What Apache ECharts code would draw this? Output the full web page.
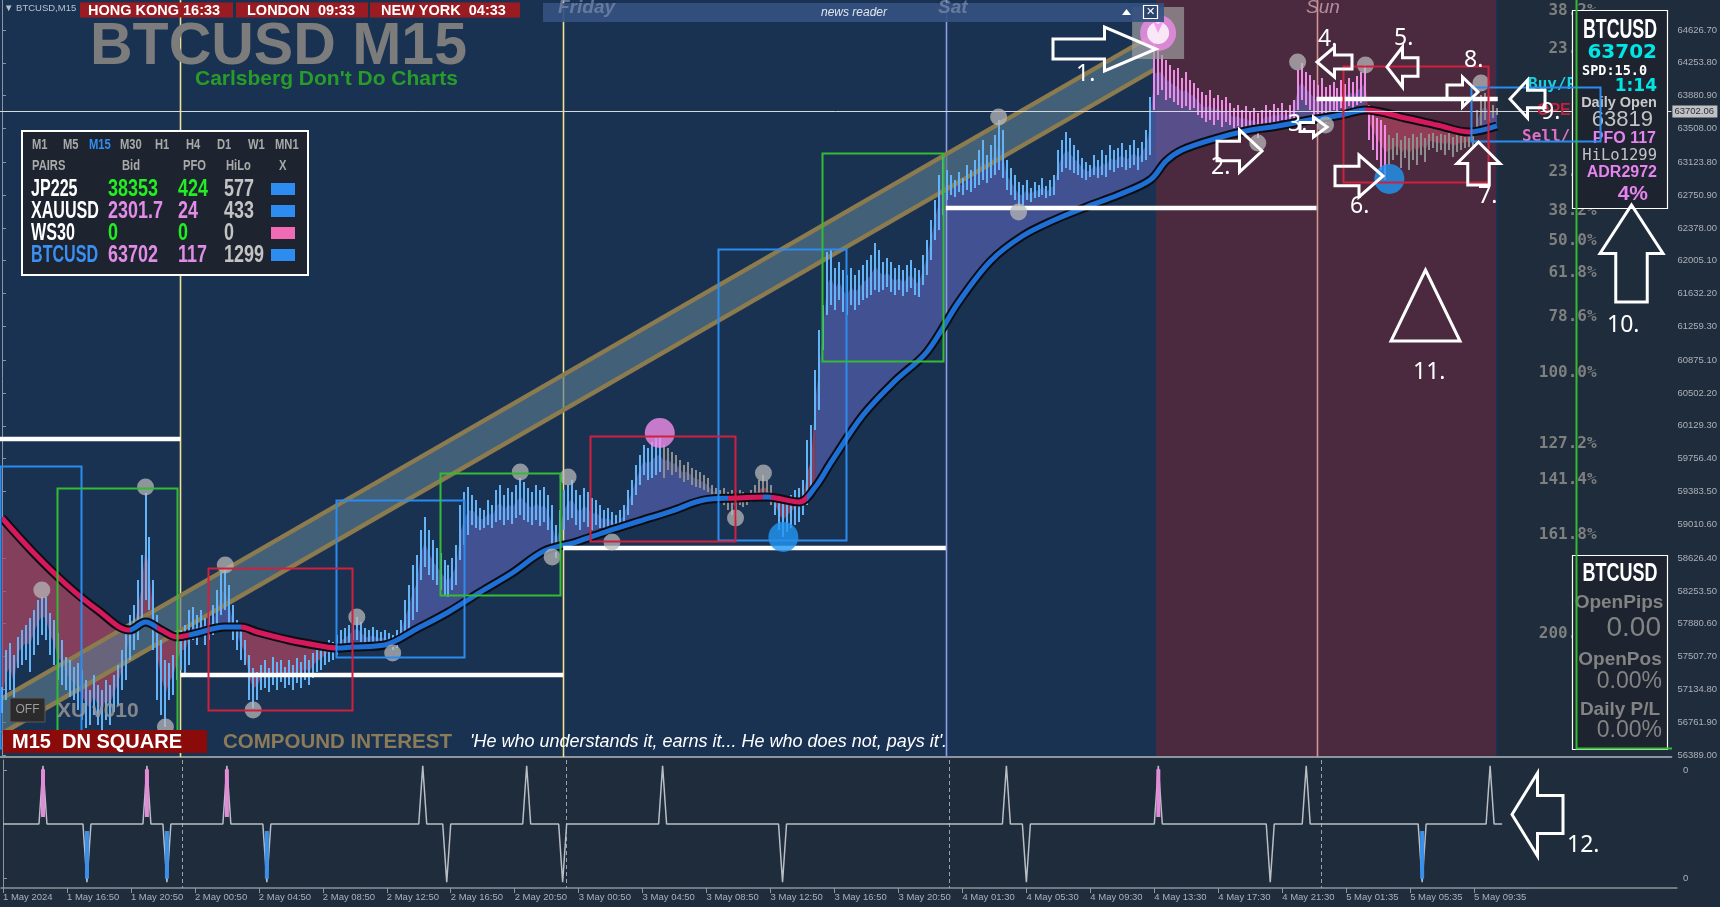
<!DOCTYPE html>
<html><head><meta charset="utf-8">
<script src="https://cdn.jsdelivr.net/npm/echarts@6.0.0/dist/echarts.min.js"></script>
<style>html,body{margin:0;padding:0;background:#1f2c3b;overflow:hidden}#c{width:1720px;height:907px}</style>
</head><body><div id="c"></div><script>
// ---------------- data ----------------
const tickIdx = [0,16,32,48,64,80,96,112,128,144,160,176,192,208,224,240,256,272,288,304,320,336,352,368];
const tickLabels = ['1 May 2024','1 May 16:50','1 May 20:50','2 May 00:50','2 May 04:50','2 May 08:50','2 May 12:50','2 May 16:50','2 May 20:50','3 May 00:50','3 May 04:50','3 May 08:50','3 May 12:50','3 May 16:50','3 May 20:50','4 May 01:30','4 May 05:30','4 May 09:30','4 May 13:30','4 May 17:30','4 May 21:30','5 May 01:35','5 May 05:35','5 May 09:35'];
const priceTicks = [56389.00,56761.90,57134.80,57507.70,57880.60,58253.50,58626.40,59010.60,59383.50,59756.40,60129.30,60502.20,60875.10,61259.30,61632.20,62005.10,62378.00,62750.90,63123.80,63508.00,63880.90,64253.80,64626.70];
const highs = [
57162,57583,57662,57526,57730,57810,57866,57946,58037,58151,58185,58185,58003,57923,57776,57696,
57503,57469,57389,57435,57355,57242,57128,57299,57185,57128,57242,57185,57299,57412,57583,57810,
57980,58094,58378,58662,59366,58866,58378,57980,57696,57469,57435,57526,57696,57810,57866,58037,
58071,57980,58037,57946,58014,58094,58264,58469,58492,58321,58094,57923,57810,57696,57526,57378,
57332,57412,57469,57378,57503,57446,57469,57389,57469,57412,57492,57446,57526,57469,57549,57583,
57606,57640,57696,57674,57753,57810,57833,57866,57901,57957,57901,57833,57810,57844,57810,57787,
57810,57776,57753,57810,57923,58151,58321,58548,58662,58946,59094,58946,58832,58742,58685,58605,
58548,58628,58776,59230,59378,59435,59344,59287,59196,59173,59287,59230,59400,59457,59344,59423,
59378,59457,59537,59491,59423,59378,59457,59400,59435,59344,59230,59003,59173,59400,59457,59514,
59400,59344,59423,59378,59310,59287,59230,59173,59196,59151,59116,59173,59230,59400,59514,59685,
59798,59912,59878,59946,59991,60003,59912,59878,59832,59798,59741,59685,59719,59651,59628,59605,
59571,59537,59457,59423,59400,59423,59378,59400,59344,59400,59378,59344,59400,59457,59514,59571,
59514,59457,59344,59287,59264,59310,59344,59400,59423,59514,59969,60139,60764,61218,61503,62105,
62128,61923,61991,61900,61843,61923,61843,61900,61957,62014,62071,62207,62128,61991,62037,61991,
61923,61957,61900,61957,62014,61923,61900,62071,62241,62468,62696,62980,63184,63036,62980,62923,
63014,62946,63093,63036,63150,63264,63377,63207,63320,63434,63604,63491,63150,63059,62980,62900,
62866,62923,62832,62900,62866,62946,62855,62923,62980,63264,63377,63468,63400,63320,63264,63173,
63127,63093,63207,63150,63264,63207,63320,63264,63286,63343,63264,63320,63377,63286,63355,63491,
63866,64548,64400,64343,64286,64230,64173,64195,64082,64150,64059,64025,63968,63923,63889,63945,
63855,63889,63832,63866,63798,63741,63775,63718,63764,63695,63741,63684,63718,63775,63718,63786,
63741,63798,63718,63775,63832,64173,64252,64150,64116,64059,64002,64082,63980,64002,64036,63968,
64059,64014,64082,64036,64105,64150,64230,63775,63695,63627,63604,63548,63434,63400,63457,63377,
63423,63400,63445,63411,63457,63400,63445,63457,63423,63445,63434,63457,63411,63434,63423,63411,
63423,63434,63718,63889,63911,63832,63775,63741];
const lows = [
56867,57015,57128,56867,57378,57412,57469,57332,57526,57640,57753,57696,57526,57412,57242,57185,
57128,57049,57015,56901,56787,56696,56730,56844,56730,56674,56787,56730,56878,56958,57128,57242,
57469,57583,57696,57923,58151,58037,57583,57015,56844,56708,57015,57071,57242,57355,57299,57412,
57696,57640,57753,57640,57696,57753,57866,57980,58037,57866,57696,57583,57469,57412,57015,56924,
57015,57128,57151,57106,57185,57128,57219,57151,57185,57128,57208,57151,57242,57185,57265,57332,
57355,57412,57446,57469,57526,57560,57606,57640,57696,57696,57674,57640,57640,57662,57628,57640,
57640,57606,57583,57606,57662,57719,57810,57923,58014,58378,58526,58435,58378,58321,58264,58208,
58185,58264,58321,58605,58776,58889,59003,58969,58946,58969,59003,58969,59037,59060,59003,59060,
59014,59082,59116,59060,59037,59003,59060,58991,59037,58946,58776,58628,58776,58946,59060,59082,
59003,58946,59037,58980,58946,59003,58969,58946,58980,58923,58912,58946,59003,59116,59230,59344,
59457,59571,59514,59537,59571,59605,59537,59628,59571,59605,59537,59491,59514,59457,59435,59423,
59400,59378,59344,59310,59287,59230,59173,59116,59060,59230,59207,59230,59264,59287,59287,59310,
59287,59230,59116,58946,58866,58923,58969,59003,59037,59116,59230,59344,60082,60310,60991,61389,
61503,61446,61559,61423,61389,61503,61446,61503,61559,61582,61616,61673,61650,61673,61707,61650,
61616,61673,61605,61650,61696,61616,61594,61730,61843,62014,62241,62355,62525,62696,62752,62730,
62786,62752,62809,62786,62832,62866,62923,62889,62946,62980,63036,62946,62809,62752,62696,62616,
62639,62696,62673,62718,62730,62752,62718,62741,62752,62923,63014,63059,63036,63002,62980,62946,
62923,62957,62980,62946,62980,62957,63036,63014,63059,63070,63036,63059,63093,63036,63127,63150,
63207,63718,63889,63945,63832,63855,63809,63775,63741,63764,63718,63741,63661,63627,63582,63604,
63548,63604,63525,63582,63548,63514,63536,63491,63514,63468,63491,63400,63457,63548,63525,63582,
63536,63604,63548,63582,63627,63718,63832,63775,63718,63661,63627,63604,63570,63695,63718,63695,
63741,63718,63764,63741,63775,63798,63832,63377,63264,63150,63036,62923,63093,63150,63207,63059,
63173,63036,63150,63093,63207,63127,63264,63286,63241,63264,63207,63264,63184,63241,63264,63286,
63298,63309,63434,63548,63604,63582,63627,63661];
const lastPrice = 63702.06;
// bar colour runs: [firstIndex, lastIndex, key]
const barColorRuns = [[0,165,'blue'],[166,193,'gray'],[194,288,'blue'],[289,347,'pink'],[348,375,'gray']];
// moving average: [barIndex, price]
const maPoints = [[0,59082],[8,58684],[16,58332],[24,58037],[32,57809],[36,57900],[40,57809],[44,57730],[48,57764],[56,57843],[60,57843],[64,57787],[72,57696],[80,57628],[84,57605],[88,57616],[96,57639],[104,57821],[112,58014],[120,58241],[128,58457],[136,58707],[144,58809],[152,58934],[160,59048],[168,59161],[176,59286],[184,59309],[192,59321],[200,59264],[204,59434],[208,59718],[216,60252],[224,60639],[232,60968],[240,61536],[248,62002],[256,62286],[264,62468],[272,62616],[280,62752],[288,62922],[292,63138],[296,63263],[304,63388],[312,63479],[320,63536],[328,63604],[336,63661],[342,63718],[352,63627],[360,63547],[368,63468],[375,63536]];
// MA trend runs: [fromIndex, toIndex, key]
const maTrendRuns = [[0,32,'down'],[32,39,'up'],[39,47,'down'],[47,60,'up'],[60,84,'down'],[84,182,'up'],[182,191,'down'],[191,193,'up'],[193,202,'down'],[202,342,'up'],[342,369,'down'],[369,376,'up']];
const fillRuns = [[0,48,'down'],[48,60,'up'],[60,84,'down'],[84,184,'up'],[184,204,'down'],[204,342,'up'],[342,368,'down'],[368,375,'up']];
// regression channel: centre line ends and half width (price)
const channelLine = [[0,56833],[289,64377]];
const channelHalf = 200;
// session level lines [fromIndex, toIndex, price]
const levelLines = [[-0.5,44.75,59980],[44.75,140.75,57299],[140.75,236.75,58742],[236.75,329.75,62605],[329.75,375.2,63843]];
// day separators [index, key]
const dayBreaks = [[44.75,'yellow'],[140.75,'yellow'],[236.75,'sat'],[329.75,'sun']];
// backgrounds [fromIndex, toIndex, key]
const bgRegions = [[-0.5,375.25,'navy'],[289.5,374.75,'weekend']];
// boxes [x1, x2, price1, price2, key]
const boxes = [[-0.5,19.75,59673,56469,'blue'],[83.75,115.75,59287,57503,'blue'],[179.65,211.75,62139,58832,'blue'],[368.5,400.75,63979,63366,'blue'],
 [13.75,43.75,59423,56572,'green'],[109.75,139.75,59594,58208,'green'],[205.75,236,63230,60866,'green'],[394.75,430,65500,56469,'green'],
 [51.65,87.75,58514,56901,'red'],[147.5,183.75,60014,58821,'red'],[336.5,372.75,64218,62900,'red']];
// swing markers [barIndex, price]
const swingDots = [[10,58264],[36,59435],[41,56708],[56,58548],[63,56901],[89,57957],[98,57549],[130,59605],[138,58639],[142,59548],[153,58810],[184,59082],[191,59594],[250,63639],[255,62559],[315,63343],[325,64264],[332,63548],[342,64230],[371,64025]];
const pinkDots = [[165,60048]];
const blueDots = [[196,58866],[348,62934]];
const alertMark = [[290,64593]];
// fibonacci labels [text, price]
const fibLabels = [['38.2%',64843],['23.6%',64411],['23.6%',63014],['38.2%',62571],['50.0%',62230],['61.8%',61866],['78.6%',61366],['100.0%',60730],['127.2%',59923],['141.4%',59514],['161.8%',58889],['200.0%',57765]];
// indicator spikes [barIndex, direction, key]
const indSpikes = [[10,1,'pink'],[21,-1,'blue'],[36,1,'pink'],[41,-1,'blue'],[56,1,'pink'],[66,-1,'blue'],[105,1,'gray'],[111,-1,'gray'],[131,1,'gray'],[140,-1,'gray'],[165,1,'gray'],[195,-1,'gray'],[251,1,'gray'],[256,-1,'gray'],[289,1,'pink'],[317,-1,'gray'],[326,1,'gray'],[355,-1,'blue'],[372,1,'gray']];
// table panel
const tableTF = ['M1','M5','M15','M30','H1','H4','D1','W1','MN1'];
const tablePairs = ['JP225','XAUUSD','WS30','BTCUSD'];
const tableBid = ['38353','2301.7','0','63702'];
const tablePFO = ['424','24','0','117'];
const tableHiLo = ['577','433','0','1299'];
const tableX = ['blue','blue','pink','blue'];
const sessions = [['HONG KONG 16:33'],['LONDON  09:33'],['NEW YORK  04:33']];

// ---------------- styling ----------------
const C = {navy:'#1a3252', weekend:'#4b2a40', page:'#1f2c3b', blue:'#63b3f6', gray:'#8e8e8e', pink:'#f08ce6',
  maUp:'#1e6fd6', maDown:'#d6195c', fillUp:'rgba(100,108,196,0.55)', fillDown:'rgba(176,68,96,0.7)',
  yellow:'#eee28c', sat:'#8e9ce6', sun:'#d49494', boxBlue:'#2a8cf0', boxGreen:'#33bb33', boxRed:'#d0203e', axis:'#8c949c', lbl:'#aab1b9'};
const PMIN = 56366.5, PMAX = 64967.6, XMIN = -0.5, XMAX = 418.75;
const colorOf = i => { for (const r of barColorRuns) if (i >= r[0] && i <= r[1]) return C[r[2]]; return C.blue; };
const fontL = (s, w) => (w||'') + ' ' + s + 'px "Liberation Sans","Arial",sans-serif';
const fontM = (s) => 'bold ' + s + 'px "DejaVu Sans Mono",monospace';

const series = [];
series.push({type:'custom', z:0, silent:true, clip:true, data: bgRegions.map((r,i)=>[i]),
  renderItem(p, api){ const r = bgRegions[p.dataIndex]; const a = api.coord([r[0], PMAX]), b = api.coord([r[1], PMIN]);
    return {type:'rect', shape:{x:a[0], y:a[1], width:b[0]-a[0], height:b[1]-a[1]}, style:{fill:C[r[2]]}}; }});
series.push({type:'custom', z:2, silent:true, clip:true, data: fillRuns.map((r,i)=>[i]),
  renderItem(p, api){ const r = fillRuns[p.dataIndex]; const pts=[];
    for (let i=r[0]; i<=r[1]; i++) pts.push(api.coord([i, (highs[i]+lows[i])/2]));
    maPoints.filter(q=>q[0]>=r[0] && q[0]<=r[1]).reverse().forEach(q=>pts.push(api.coord(q)));
    return {type:'polygon', shape:{points:pts}, style:{fill: r[2]==='up'?C.fillUp:C.fillDown}}; }});
series.push({type:'custom', z:3, silent:true, clip:true, data: dayBreaks.map((r,i)=>[i]),
  renderItem(p, api){ const r = dayBreaks[p.dataIndex]; const a = api.coord([r[0], PMAX]), b = api.coord([r[0], PMIN]);
    return {type:'line', shape:{x1:Math.round(a[0])+0.5, y1:a[1], x2:Math.round(a[0])+0.5, y2:b[1]}, style:{stroke:C[r[1]], lineWidth:1.6}}; }});
series.push({type:'custom', z:3, silent:true, clip:true, data:[[0]],
  renderItem(p, api){ const s = channelLine[0], e = channelLine[1];
    const su = api.coord([s[0], s[1]+channelHalf]), eu = api.coord([e[0], e[1]+channelHalf]);
    const sl = api.coord([s[0], s[1]-channelHalf]), el = api.coord([e[0], e[1]-channelHalf]);
    return {type:'group', children:[
      {type:'polygon', shape:{points:[su,eu,el,sl]}, style:{fill:'rgba(88,120,140,0.66)'}},
      {type:'line', shape:{x1:su[0],y1:su[1],x2:eu[0],y2:eu[1]}, style:{stroke:'#8c7b4e', lineWidth:4.5}},
      {type:'line', shape:{x1:sl[0],y1:sl[1],x2:el[0],y2:el[1]}, style:{stroke:'#8c7b4e', lineWidth:4.5}}]}; }});
series.push({type:'custom', z:4, silent:true, clip:true, data: highs.map((h,i)=>[i, lows[i], h]), encode:{x:0, y:[1,2]},
  renderItem(p, api){ const i = api.value(0); const t = api.coord([i, api.value(2)]), b = api.coord([i, api.value(1)]);
    return {type:'rect', shape:{x:Math.round(t[0])-1, y:t[1], width:2, height:Math.max(1.5, b[1]-t[1])}, style:{fill:colorOf(i)}}; }});
series.push({type:'line', z:5, silent:true, data: maPoints, smooth:0.35, showSymbol:false, lineStyle:{color:'#0b0d12', width:9}});
const MA_INDEX = series.length;
series.push({type:'line', z:6, silent:true, data: maPoints, smooth:0.35, showSymbol:false, lineStyle:{width:5}});
series.push({type:'custom', z:7, silent:true, clip:true, data: levelLines.map((r,i)=>[i]),
  renderItem(p, api){ const r = levelLines[p.dataIndex]; const a = api.coord([r[0], r[2]]), b = api.coord([r[1], r[2]]);
    return {type:'line', shape:{x1:a[0], y1:a[1], x2:b[0], y2:b[1]}, style:{stroke:'#ffffff', lineWidth:4.5}}; }});
series.push({type:'scatter', z:8, silent:true, data: swingDots, symbolSize:17, itemStyle:{color:'rgba(185,185,185,0.92)'}});
series.push({type:'scatter', z:8, silent:true, data: pinkDots, symbolSize:30, itemStyle:{color:'#f08ce8'}});
series.push({type:'scatter', z:8, silent:true, data: blueDots, symbolSize:30, itemStyle:{color:'#2196f3'}});
series.push({type:'scatter', z:8, silent:true, data: alertMark, symbol:'rect', symbolSize:52, itemStyle:{color:'rgba(160,160,160,0.85)'}});
series.push({type:'scatter', z:8, silent:true, data: alertMark, symbolSize:36, itemStyle:{color:'#f08ce8'}});
series.push({type:'scatter', z:8, silent:true, data: alertMark, symbolSize:22, itemStyle:{color:'#ffffff'}});
series.push({type:'scatter', z:8, silent:true, data: alertMark, symbol:'arrow', symbolRotate:180, symbolSize:[8,12], itemStyle:{color:'#f08ce8'}});
series.push({type:'custom', z:8, silent:true, clip:false, data:[[0]],
  renderItem(p, api){ const a = api.coord([XMIN, lastPrice]), b = api.coord([XMAX, lastPrice]); const y = Math.round(a[1])+0.5;
    return {type:'group', children:[
      {type:'line', shape:{x1:a[0], y1:y, x2:b[0], y2:y}, style:{stroke:'#d6dade', lineWidth:1}},
      {type:'rect', shape:{x:b[0]+1, y:y-6, width:45, height:12}, style:{fill:'#c2c2c2'}},
      {type:'text', x:b[0]+3, y:y, style:{text:lastPrice.toFixed(2), fill:'#1f2c3b', font:fontL(9.5), verticalAlign:'middle'}}]}; }});
series.push({type:'custom', z:9, silent:true, clip:false, data: fibLabels.map((r,i)=>[i]),
  renderItem(p, api){ const r = fibLabels[p.dataIndex]; const a = api.coord([400, r[1]]);
    return {type:'text', x:a[0], y:a[1], style:{text:r[0], fill:'#7f7f7f', font:fontM(16), align:'right', verticalAlign:'middle'}}; }});
series.push({type:'custom', z:11, silent:true, clip:true, data: boxes.map((r,i)=>[i]),
  renderItem(p, api){ const r = boxes[p.dataIndex]; const a = api.coord([r[0], Math.max(r[2],r[3])]), b = api.coord([r[1], Math.min(r[2],r[3])]);
    const col = r[4]==='blue'?C.boxBlue:(r[4]==='green'?C.boxGreen:C.boxRed);
    return {type:'rect', shape:{x:Math.round(a[0])+0.5, y:Math.round(a[1])+0.5, width:Math.round(b[0]-a[0]), height:Math.round(b[1]-a[1])}, style:{fill:null, stroke:col, lineWidth:2}}; }});
// ---- indicator pane ----
series.push({type:'custom', xAxisIndex:1, yAxisIndex:1, z:3, silent:true, clip:true, data: dayBreaks.map((r,i)=>[i]),
  renderItem(p, api){ const r = dayBreaks[p.dataIndex]; const a = api.coord([r[0], 1.1]), b = api.coord([r[0], -1.1]);
    return {type:'line', shape:{x1:Math.round(a[0])+0.5, y1:a[1], x2:Math.round(a[0])+0.5, y2:b[1]}, style:{stroke:'#9aa4ae', lineWidth:1, lineDash:[4,3]}}; }});
const indData = highs.map((h,i)=>{ const s = indSpikes.find(q=>q[0]===i); return [i, s ? s[1] : 0]; });
series.push({type:'line', xAxisIndex:1, yAxisIndex:1, z:5, silent:true, data: indData, showSymbol:false, lineStyle:{color:'#b9bec4', width:1.5}});
series.push({type:'custom', xAxisIndex:1, yAxisIndex:1, z:6, silent:true, clip:true, data: indSpikes.filter(s=>s[2]!=='gray').map(s=>[s[0], s[1]]),
  renderItem(p, api){ const i = api.value(0), d = api.value(1); const a = api.coord([i, d*0.94]), b = api.coord([i, d*0.12]);
    const col = d > 0 ? '#e58ad8' : '#3a8fe8';
    return {type:'rect', shape:{x:a[0]-2, y:Math.min(a[1],b[1]), width:4, height:Math.abs(b[1]-a[1])}, style:{fill:col}}; }});

// ---------------- overlay graphics ----------------
const g = [];
const txt = (x, y, text, font, fill, align, vAlign, z, extra, tf) => Object.assign({type:'text', x, y, z: z||30, silent:true,
  style: Object.assign({text, font, fill, align: align||'left', verticalAlign: vAlign||'middle'}, extra||{})}, tf||{});
// condensed look: bold Liberation Sans squeezed horizontally
const cond = (x, y, text, size, fill, align, z, sx, sy) => txt(x, y, text, fontL(size,'bold'), fill, align||'left', 'middle', z, null, {scaleX: sx||0.78, scaleY: sy||1});
const rect = (x, y, w, h, style, z) => ({type:'rect', z: z||30, silent:true, shape:{x, y, width:w, height:h}, style});
function arrow(dir, x0, y0, x1, y1){
  const w = x1-x0, h = y1-y0; let pts;
  if (dir==='right'){ const xm=x0+0.5*w, yc=(y0+y1)/2, s=h*0.23; pts=[[x0,yc-s],[xm,yc-s],[xm,y0],[x1,yc],[xm,y1],[xm,yc+s],[x0,yc+s]]; }
  else if (dir==='left'){ const xm=x1-0.5*w, yc=(y0+y1)/2, s=h*0.23; pts=[[x1,yc-s],[xm,yc-s],[xm,y0],[x0,yc],[xm,y1],[xm,yc+s],[x1,yc+s]]; }
  else { const ym=y0+0.5*h, xc=(x0+x1)/2, s=w*0.25; pts=[[xc-s,y1],[xc-s,ym],[x0,ym],[xc,y0],[x1,ym],[xc+s,ym],[xc+s,y1]]; }
  return {type:'polygon', z:32, silent:true, shape:{points:pts}, style:{fill:null, stroke:'#ffffff', lineWidth:3, lineJoin:'miter'}};
}
// header
g.push(txt(4, 8, '▼ BTCUSD,M15', '9.5px "Liberation Sans","DejaVu Sans",sans-serif', '#b9c2cb'));
const sessBoxes = [[80,153,88],[236,132,247],[370,150,381]];
sessions.forEach((s,i)=>{ const b = sessBoxes[i]; g.push(rect(b[0], 2.5, b[1], 15, {fill:'#9b1b22'})); g.push(txt(b[2], 10.5, s[0], fontL(14.5,'bold'), '#ffffff')); });
g.push(txt(90, 48, 'BTCUSD M15', fontL(59,'bold'), '#7c7c7c', 'left', 'middle', 30, {textShadowColor:'#0b1522', textShadowOffsetX:2, textShadowOffsetY:2}));
g.push(txt(195, 79, "Carlsberg Don't Do Charts", fontL(21,'bold'), '#289c2a'));
// news reader + day names
g.push(rect(543, 3, 621, 19, {fill:'rgba(52,80,128,0.92)'}, 31));
g.push(txt(558, 8, 'Friday', 'italic bold 19px "Liberation Sans",sans-serif', 'rgba(120,138,170,0.75)', 'left', 'middle', 31));
g.push(txt(938, 8, 'Sat', 'italic bold 19px "Liberation Sans",sans-serif', 'rgba(120,138,170,0.75)', 'left', 'middle', 31));
g.push(txt(1306, 8, 'Sun', 'italic 19px "Liberation Sans",sans-serif', '#b58d9b'));
g.push(txt(854, 12.5, 'news reader', 'italic 12px "Liberation Sans",sans-serif', '#dfe6ef', 'center', 'middle', 31));
g.push({type:'polygon', z:31, silent:true, shape:{points:[[1122,15],[1131,15],[1126.5,9]]}, style:{fill:'#ffffff'}});
g.push(rect(1143.5, 5.5, 14, 13, {fill:'#2c4570', stroke:'#ffffff', lineWidth:1.2}, 31));
g.push(txt(1150.5, 12.5, '✕', '11px "DejaVu Sans",sans-serif', '#ffffff', 'center', 'middle', 31));
// table panel
g.push(rect(22, 131, 286, 144, {fill:'#1d2430', stroke:'#ffffff', lineWidth:2}, 20));
const tfX = [32,63,89,120,155,186,217,248,275];
tableTF.forEach((t,i)=>g.push(cond(tfX[i], 145, t, 14, t==='M15'?'#2f8ff0':'#a9a9a9', 'left', 21, 0.8)));
[['PAIRS',32],['Bid',122],['PFO',183],['HiLo',226],['X',279]].forEach(h=>g.push(cond(h[1], 166, h[0], 14, '#a9a9a9', 'left', 21, 0.8)));
const rowY = [189, 211, 233, 255];
const greenC = '#22ee22', violetC = '#e28ce8';
tablePairs.forEach((p,i)=>{
  const y = rowY[i]; const vc = (i===0||i===2) ? greenC : violetC;
  g.push(cond(31, y, p, 23, p==='BTCUSD'?'#3a90f5':'#ffffff', 'left', 21, 0.7, 1.05));
  g.push(cond(108, y, tableBid[i], 23, vc, 'left', 21, 0.78, 1.05));
  g.push(cond(178, y, tablePFO[i], 23, vc, 'left', 21, 0.78, 1.05));
  g.push(cond(224, y, tableHiLo[i], 23, '#c3c3c3', 'left', 21, 0.78, 1.05));
  g.push(rect(271, y-6, 24, 12, {fill: tableX[i]==='pink'?'#f06ab4':'#2d8cf0'}, 21));
});
// right info panel
g.push(rect(1572.5, 10.5, 95, 198, {fill:'#1d2430', stroke:'#ffffff', lineWidth:1.2}, 10));
g.push(cond(1620, 30, 'BTCUSD', 27, '#ffffff', 'center', 10, 0.66, 1.05));
g.push(txt(1657, 53, '63702', 'bold 20px "DejaVu Sans",sans-serif', '#00e6e6', 'right', 'middle', 10));
g.push(txt(1582, 71, 'SPD:15.0', fontM(13.5), '#ffffff', 'left', 'middle', 10));
g.push(txt(1657, 87, '1:14', 'bold 17px "DejaVu Sans",sans-serif', '#00e6e6', 'right', 'middle', 10));
g.push(txt(1619, 103, 'Daily Open', fontL(14.5,'bold'), '#c9c9c9', 'center', 'middle', 10));
g.push(txt(1653, 120, '63819', fontL(22), '#c3c3c3', 'right', 'middle', 10));
g.push(txt(1656, 139, 'PFO 117', fontL(16,'bold'), '#e584ee', 'right', 'middle', 10));
g.push(txt(1657, 156, 'HiLo1299', '15.5px "DejaVu Sans Mono",monospace', '#c3c3c3', 'right', 'middle', 10));
g.push(txt(1657, 173, 'ADR2972', fontL(16,'bold'), '#e584ee', 'right', 'middle', 10));
g.push(txt(1648, 194, '4%', fontL(21,'bold'), '#e584ee', 'right', 'middle', 10));
// right P/L panel
g.push(rect(1572.5, 555.5, 95, 194, {fill:'#1d2430', stroke:'#ffffff', lineWidth:1.2}, 10));
g.push(cond(1620, 574, 'BTCUSD', 24, '#ffffff', 'center', 10, 0.75, 1.05));
g.push(txt(1619, 603, 'OpenPips', fontL(19,'bold'), '#838383', 'center', 'middle', 10));
g.push(txt(1661, 628, '0.00', fontL(28), '#838383', 'right', 'middle', 10));
g.push(txt(1620, 660, 'OpenPos', fontL(19,'bold'), '#838383', 'center', 'middle', 10));
g.push(txt(1662, 682, '0.00%', fontL(23), '#838383', 'right', 'middle', 10));
g.push(txt(1620, 710, 'Daily P/L', fontL(19,'bold'), '#838383', 'center', 'middle', 10));
g.push(txt(1662, 731, '0.00%', fontL(23), '#838383', 'right', 'middle', 10));
// trade labels under panel
g.push(txt(1528, 85, 'Buy/P', fontM(16), '#18d0e0', 'left', 'middle', 9));
g.push(txt(1537, 111, 'OPEN', fontL(16,'bold'), '#c4203a', 'left', 'middle', 9));
g.push(txt(1522, 137, 'Sell/', fontM(16), '#e070c4', 'left', 'middle', 9));
// bottom texts
g.push(rect(10, 698, 35, 24, {fill:'#2b2b2b', stroke:'#5a5a5a', lineWidth:1}, 30));
g.push(txt(27.5, 710, 'OFF', fontL(12), '#9c9c9c', 'center', 'middle', 30));
g.push(txt(57, 711, 'XU v010', fontL(21,'bold'), 'rgba(150,150,150,0.85)', 'left', 'middle', 30));
g.push(rect(3, 730, 204, 23, {fill:'#8b0a0a'}, 30));
g.push(txt(12, 742, 'M15  DN SQUARE', fontL(20,'bold'), '#ffffff', 'left', 'middle', 30));
g.push(txt(223, 742, 'COMPOUND INTEREST', fontL(20.5,'bold'), '#8c7b58', 'left', 'middle', 30));
g.push(txt(470, 742, "'He who understands it, earns it... He who does not, pays it'.", 'italic 18px "Liberation Sans",sans-serif', '#ffffff', 'left', 'middle', 30));
// annotation arrows
g.push(arrow('right', 1053, 27, 1156, 71));
g.push(arrow('right', 1217, 130, 1262, 172));
g.push(arrow('right', 1300, 117, 1327, 137));
g.push(arrow('left', 1317, 47, 1352, 77));
g.push(arrow('left', 1387, 47, 1418, 87));
g.push(arrow('right', 1335, 155, 1383, 197));
g.push(arrow('up', 1457, 142, 1500, 185));
g.push(arrow('right', 1447, 77, 1478, 107));
g.push(arrow('left', 1510, 80, 1545, 118));
g.push(arrow('up', 1600, 205, 1663, 302));
g.push(arrow('left', 1512, 773, 1563, 856));
g.push({type:'polygon', z:32, silent:true, shape:{points:[[1425.5,270],[1391,341],[1460,341]]}, style:{fill:null, stroke:'#ffffff', lineWidth:3}});
const numFont = '23px "Noto Sans","Open Sans",sans-serif';
[['1.',1076,74],['2.',1211,167],['3.',1288,124],['4.',1318,39],['5.',1394,38],['6.',1350,206],['7.',1478,196],['8.',1464,60],['9.',1541,112],['10.',1607,325],['11.',1413,372],['12.',1567,845]]
  .forEach(n=>g.push(txt(n[1], n[2], n[0], numFont, '#ffffff', 'left', 'middle', 33)));

const chart = echarts.init(document.getElementById('c'), null, {renderer:'canvas'});
chart.setOption({
  animation:false, backgroundColor:C.page,
  grid:[{left:0, top:0, width:1677, height:757, containLabel:false},{left:0, top:760, width:1677, height:128, containLabel:false}],
  xAxis:[
    {type:'value', gridIndex:0, min:XMIN, max:XMAX, splitLine:{show:false}, axisLabel:{show:false}, axisTick:{show:false}, axisLine:{show:true, onZero:false, lineStyle:{color:C.axis, width:2}}},
    {type:'value', gridIndex:1, min:XMIN, max:XMAX, splitLine:{show:false},
     axisLine:{show:true, onZero:false, lineStyle:{color:C.axis, width:1.5}},
     axisTick:{show:true, customValues:tickIdx, length:5, lineStyle:{color:C.axis}},
     axisLabel:{show:true, customValues:tickIdx, align:'left', margin:4, color:C.lbl, fontSize:9.5, fontFamily:'"Liberation Sans",sans-serif',
       formatter:(v)=>{ const k = tickIdx.indexOf(Math.round(v)); return k>=0 ? tickLabels[k] : ''; }}}
  ],
  yAxis:[
    {type:'value', gridIndex:0, position:'right', min:PMIN, max:PMAX, scale:true, splitLine:{show:false},
     axisLine:{show:true, lineStyle:{color:C.axis}},
     axisTick:{show:true, customValues:priceTicks, length:4, lineStyle:{color:C.axis}},
     axisLabel:{show:true, customValues:priceTicks, margin:6, color:C.lbl, fontSize:9.5, fontFamily:'"Liberation Sans",sans-serif', formatter:(v)=>v.toFixed(2)}},
    {type:'value', gridIndex:1, position:'right', min:-1.1, max:1.1, splitLine:{show:false},
     axisLine:{show:true, lineStyle:{color:C.axis}},
     axisTick:{show:true, customValues:[0.93,-0.93], length:4, lineStyle:{color:C.axis}},
     axisLabel:{show:true, customValues:[0.93,-0.93], margin:6, color:C.lbl, fontSize:9.5, formatter:()=> '0'}}
  ],
  visualMap:[{type:'piecewise', show:false, seriesIndex:MA_INDEX, dimension:0,
    pieces: maTrendRuns.map(r=>({gte:r[0], lt:r[1], color: r[2]==='up'?C.maUp:C.maDown}))}],
  series: series,
  graphic:{elements:g}
});
</script></body></html>
